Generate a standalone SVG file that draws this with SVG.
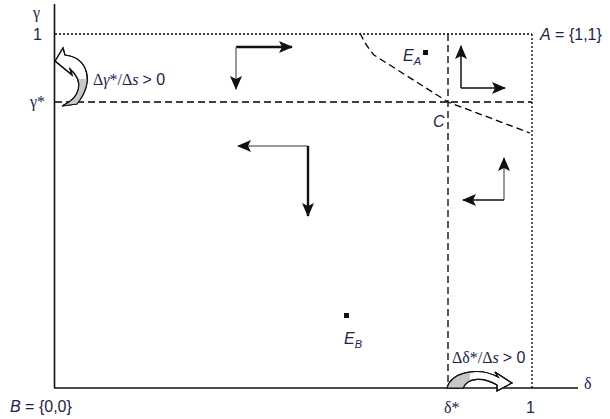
<svg xmlns="http://www.w3.org/2000/svg" width="610" height="419" viewBox="0 0 610 419">
<style>
.axis{stroke:#111;stroke-width:1.6;fill:none}
.dot{stroke:#000;stroke-width:1.3;stroke-dasharray:2 2;fill:none}
.dash{stroke:#000;stroke-width:1.3;stroke-dasharray:7 4;fill:none}
.thick{stroke:#111;stroke-width:2.4;fill:none}
.thin{stroke:#777;stroke-width:1.5;fill:none}
.blk{stroke:#111;stroke-width:1.5;fill:none}
.lbl{font-family:"Liberation Sans",Arial,sans-serif;font-size:16px;fill:#1c2448}
.gr{font-family:"Liberation Serif","Times New Roman",serif;font-size:16px;fill:#1c2448}
.sans{font-family:"Liberation Sans",Arial,sans-serif}
.it{font-style:italic}
.band{stroke:#111;stroke-width:1.2}
</style>
<defs>
<marker id="ah" viewBox="0 0 14 12" refX="13" refY="6" markerWidth="14" markerHeight="12" markerUnits="userSpaceOnUse" orient="auto">
<path d="M0,0 L14,6 L0,12 L3,6 Z" fill="#111"/>
</marker>
<clipPath id="clipL"><rect x="40" y="79" width="60" height="40"/></clipPath>
<clipPath id="clipB"><rect x="440" y="360" width="30" height="40"/></clipPath>
</defs>

<g id="axes">
<line class="axis" x1="54.5" y1="4" x2="54.5" y2="388"/>
<line class="axis" x1="54" y1="388" x2="578" y2="388"/>
</g>

<g id="guides">
<line class="dot" x1="55" y1="34" x2="532" y2="34"/>
<line class="dot" x1="532" y1="34" x2="532" y2="388"/>
<line class="dash" x1="55" y1="102" x2="532" y2="102"/>
<line class="dash" x1="448" y1="34" x2="448" y2="388"/>
<path class="dash" d="M360,33 Q366,46 374,55 L448,102 L530,133"/>
</g>

<g id="connectors">
<line class="thick" x1="236" y1="47" x2="292" y2="47" marker-end="url(#ah)"/>
<line class="thin" x1="236" y1="47" x2="236" y2="89" marker-end="url(#ah)"/>
<line class="thin" x1="308" y1="146" x2="238" y2="146" marker-end="url(#ah)"/>
<line class="thick" x1="308" y1="146" x2="308" y2="216" marker-end="url(#ah)"/>
<line class="blk" x1="461" y1="88" x2="461" y2="46" marker-end="url(#ah)"/>
<line class="blk" x1="461" y1="88" x2="505" y2="88" marker-end="url(#ah)"/>
<line class="thin" x1="504" y1="200" x2="504" y2="158" marker-end="url(#ah)"/>
<line class="blk" x1="504" y1="200" x2="463" y2="200" marker-end="url(#ah)"/>
</g>

<g id="curved-arrow-gamma">
<path class="band" fill="#fff" d="M62,106 C80,98 85,82 70,69 L72,75 L55,61 L63,48 L65,55 C88,58 95,81 77,104 Z"/>
<path fill="#c8c8c8" stroke="none" clip-path="url(#clipL)" d="M62,106 C80,98 85,82 70,69 L72,75 L55,61 L63,48 L65,55 C88,58 95,81 77,104 Z"/>
<path class="band" fill="none" d="M62,106 C80,98 85,82 70,69 L72,75 L55,61 L63,48 L65,55 C88,58 95,81 77,104 Z"/>
</g>

<g id="curved-arrow-delta">
<path class="band" fill="#fff" d="M447,388 C452,371 480,367 498,377 L495,372 L512,383 L497,391 L497,385 C484,377 468,377 463,388 Z"/>
<path fill="#c8c8c8" stroke="none" clip-path="url(#clipB)" d="M447,388 C452,371 480,367 498,377 L495,372 L512,383 L497,391 L497,385 C484,377 468,377 463,388 Z"/>
<path class="band" fill="none" d="M447,388 C452,371 480,367 498,377 L495,372 L512,383 L497,391 L497,385 C484,377 468,377 463,388 Z"/>
</g>

<g id="node-EA">
<rect x="423" y="50" width="5" height="5" fill="#111"/>
<text class="lbl it" x="403" y="61">E<tspan font-size="11" dy="4">A</tspan></text>
</g>
<g id="node-EB">
<rect x="344" y="313" width="5" height="5" fill="#111"/>
<text class="lbl it" x="344" y="344">E<tspan font-size="11" dy="4">B</tspan></text>
</g>
<g id="node-C">
<text class="lbl it" x="433" y="127">C</text>
</g>
<g id="node-A">
<text class="lbl" x="540" y="40"><tspan class="it">A</tspan> = {1,1}</text>
</g>
<g id="node-B">
<text class="lbl" x="10" y="412"><tspan class="it">B</tspan> = {0,0}</text>
</g>

<g id="labels">
<text class="gr" x="33" y="18" font-size="16">γ</text>
<text class="lbl" x="33" y="40">1</text>
<text class="gr" x="30" y="107" font-size="16">γ*</text>
<text class="gr" x="584" y="389" font-size="17">δ</text>
<text class="gr" x="444" y="413" font-size="17">δ*</text>
<text class="lbl" x="526" y="413">1</text>
<text class="gr" x="93" y="85" font-size="18">Δ<tspan class="it">γ</tspan>*/Δ<tspan class="it">s</tspan> <tspan class="sans">&gt; 0</tspan></text>
<text class="gr" x="452" y="363" font-size="18">Δδ*/Δ<tspan class="it">s</tspan> <tspan class="sans">&gt; 0</tspan></text>
</g>
</svg>
